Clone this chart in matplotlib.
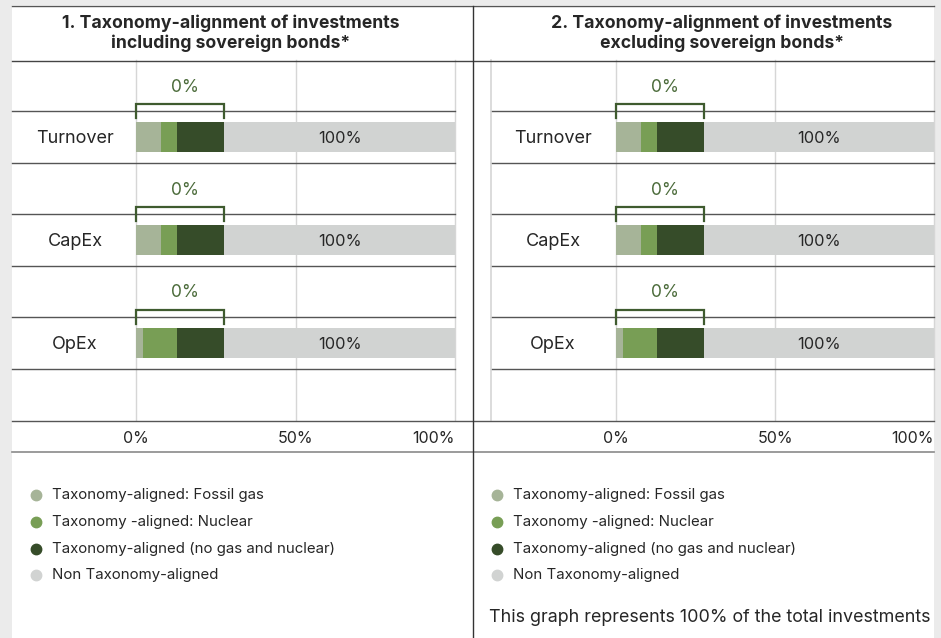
import matplotlib
matplotlib.use("Agg")
import matplotlib.pyplot as plt
from matplotlib.lines import Line2D
from matplotlib.patches import Rectangle
from matplotlib.transforms import blended_transform_factory

plt.rcParams['font.family'] = ['Inter', 'DejaVu Sans']

# ---- data ----
categories = ["Turnover", "CapEx", "OpEx"]
fossil_gas = [7.8, 7.8, 2.2]
nuclear = [5.0, 5.0, 10.7]
aligned_other = [14.8, 14.8, 14.8]
non_aligned = [72.4, 72.4, 72.3]
aligned_labels = ["0%", "0%", "0%"]
non_aligned_labels = ["100%", "100%", "100%"]
xticks = [0, 50, 100]
xtick_labels = ["0%", "50%", "100%"]
panel_titles = ["1. Taxonomy-alignment of investments\nincluding sovereign bonds*",
                "2. Taxonomy-alignment of investments\nexcluding sovereign bonds*"]
legend_labels = ["Taxonomy-aligned: Fossil gas", "Taxonomy -aligned: Nuclear",
                 "Taxonomy-aligned (no gas and nuclear)", "Non Taxonomy-aligned"]
footnote = "This graph represents 100% of the total investments"

colors = ["#a6b498", "#789e55", "#364c29", "#d1d3d2"]
bracket_color = "#3f5b2f"
label_green = "#4b6b3a"
text_color = "#262626"

W, H = 941, 638
fig = plt.figure(figsize=(W / 100, H / 100), dpi=100, facecolor="#ebebeb")

def fx(x): return x / W
def fy(y): return 1 - y / H

# white card
fig.add_artist(Rectangle((fx(12), 0), fx(934) - fx(12), fy(5), transform=fig.transFigure,
                         facecolor="white", edgecolor="none", zorder=0))
# top border
fig.add_artist(Line2D([fx(12), fx(934)], [fy(5.5), fy(5.5)], transform=fig.transFigure,
                      color="#555555", lw=1.0))
# title separator
fig.add_artist(Line2D([fx(12), fx(934)], [fy(60.5), fy(60.5)], transform=fig.transFigure,
                      color="#444444", lw=1.0))
# axis region lines
fig.add_artist(Line2D([fx(12), fx(934)], [fy(420.5), fy(420.5)], transform=fig.transFigure,
                      color="#555555", lw=1.0))
fig.add_artist(Line2D([fx(12), fx(934)], [fy(451.5), fy(451.5)], transform=fig.transFigure,
                      color="#8a8a8a", lw=1.2))
# panel divider
fig.add_artist(Line2D([fx(473), fx(473)], [fy(6), 0], transform=fig.transFigure,
                      color="#333333", lw=1.0))

panels = [
    dict(left=136, right=455, row_left=12, cat_x=75, title_x=231, leg_x=36),
    dict(left=616, right=934, row_left=491, cat_x=553, title_x=722, leg_x=497),
]

positions = [1.5, 3.5, 5.5]
bar_h = 0.585

for p, title in zip(panels, panel_titles):
    ax = fig.add_axes([fx(p["left"]), fy(420), fx(p["right"]) - fx(p["left"]), fy(60) - fy(420)])
    ax.set_xlim(0, 100)
    ax.set_ylim(7, 0)
    ax.patch.set_alpha(0)
    for s in ax.spines.values():
        s.set_visible(False)
    ax.set_yticks([])
    ax.set_xticks(xticks)
    ax.set_xticklabels(xtick_labels, fontsize=11.5, color=text_color)
    ax.tick_params(axis="x", length=0, pad=8)
    ax.get_xticklabels()[-1].set_ha("right")
    for xv in xticks:
        ax.axvline(xv, color="#d6d6d6", lw=1.0, zorder=0, clip_on=False)

    # row separator lines extending left into the category column
    tr = blended_transform_factory(fig.transFigure, ax.transData)
    for r in range(1, 7):
        ax.plot([fx(p["row_left"]), fx(p["right"])], [r, r], transform=tr, color="#555555",
                lw=1.0, clip_on=False, zorder=1)
    # light left border of category column in right panel
    if p["row_left"] > 100:
        ax.plot([fx(p["row_left"]), fx(p["row_left"])], [0, 7], transform=tr, color="#d6d6d6",
                lw=1.2, clip_on=False, zorder=1)

    lefts = [0.0] * len(categories)
    for series, c in zip([fossil_gas, nuclear, aligned_other, non_aligned], colors):
        ax.barh(positions, series, left=lefts, height=bar_h, color=c, zorder=2)
        lefts = [a + b for a, b in zip(lefts, series)]

    for i, pos in enumerate(positions):
        tot = fossil_gas[i] + nuclear[i] + aligned_other[i]
        # bracket
        yb = pos - 0.645
        yt = pos - 0.37
        ax.plot([0, 0, tot, tot], [yt, yb, yb, yt], color=bracket_color, lw=1.6,
                solid_joinstyle="miter", zorder=3, clip_on=False)
        ax.text(tot / 2 + 1.5, pos - 0.97, aligned_labels[i], ha="center", va="center",
                fontsize=12.5, color=label_green)
        ax.text(tot + non_aligned[i] / 2, pos + 0.03, non_aligned_labels[i], ha="center",
                va="center", fontsize=11.8, color=text_color, zorder=4)
        ax.text(fx(p["cat_x"]), pos + 0.03, categories[i], transform=tr, ha="center",
                va="center", fontsize=13, color=text_color)

    fig.text(fx(p["title_x"]), fy(33.5), title, ha="center", va="center", fontsize=12.7,
             fontweight="bold", color=text_color, linespacing=1.2)

    for j, (lab, c) in enumerate(zip(legend_labels, colors)):
        yy = 495 + j * 26.8
        fig.add_artist(Line2D([fx(p["leg_x"])], [fy(yy)], transform=fig.transFigure,
                              marker="o", ms=7.5, color=c, lw=0))
        fig.text(fx(p["leg_x"] + 16), fy(yy), lab, ha="left", va="center", fontsize=10.8,
                 color=text_color)

fig.text(fx(489), fy(617), footnote, ha="left", va="center", fontsize=12.9, color=text_color)

fig.savefig("out.png", dpi=100, facecolor=fig.get_facecolor())
